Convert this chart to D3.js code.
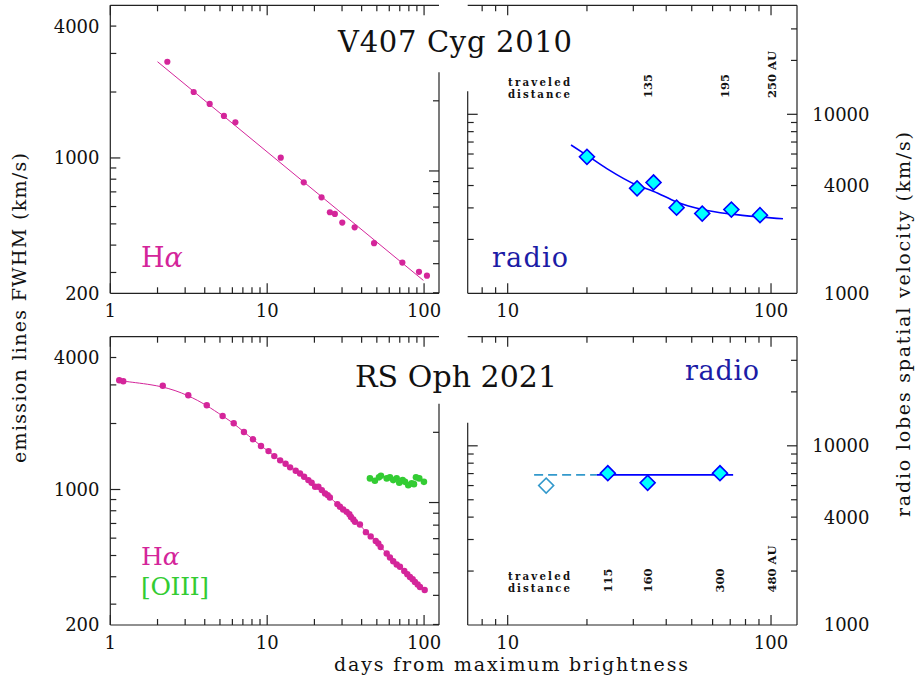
<!DOCTYPE html>
<html>
<head>
<meta charset="utf-8">
<script src="https://cdn.jsdelivr.net/npm/d3@7"></script>
<style>
  body { margin: 0; background: #fff; }
  svg { display: block; font-family: "DejaVu Serif", serif; }
</style>
</head>
<body>
<svg id="chart" width="920" height="680"></svg>
<script>
// V407 Cyg 2010 - H-alpha FWHM
const cygHaDays = [2.31, 3.40, 4.30, 5.30, 6.27, 12.2, 17.1, 22.2, 25.1, 27.0, 30.1, 36.1, 48.0, 72.7, 92.8, 104.3];
const cygHaFwhm = [2750, 2000, 1765, 1555, 1455, 1003, 774, 661, 565, 555, 507, 482, 408, 333, 302, 290];
const cygHaFitDays = [2.0, 99];
const cygHaFitFwhm = [2750, 276];

// V407 Cyg 2010 - radio lobes
const cygRadioDays = [20.0, 31.0, 35.8, 43.8, 54.8, 70.7, 90.8];
const cygRadioVel = [5790, 3860, 4160, 3010, 2790, 2935, 2730];
const cygRadioFitDays = [17.4, 20, 23.8, 31, 35.7, 43.8, 54.8, 70.7, 90.8, 111];
const cygRadioFitVel = [6740, 5900, 4970, 4010, 3720, 3240, 2940, 2770, 2670, 2610];
const cygDistDays = [34, 67, 101];
const cygDistText = ["135", "195", "250 AU"];

// RS Oph 2021 - H-alpha and [OIII] FWHM
const ophHaDays = [1.14, 1.21, 2.16, 3.14, 4.12, 5.20, 6.12, 7.11, 8.12, 9.13,
  10.2, 11.1, 12.1, 13.1, 14.0, 15.2, 16.2, 17.2, 18.3, 19.2,
  20.2, 21.2, 22.3, 23.4, 24.3, 25.1, 28.0, 29.1, 30.5, 32.1,
  33.4, 34.2, 35.4, 36.3, 39.0, 42.6, 45.7, 49.2, 51.1, 52.9,
  57.8, 60.6, 63.6, 66.9, 70.2, 74.8, 78.2, 81.3, 84.6, 87.5,
  91.0, 94.2, 100.9];
const ophHaFwhm = [3150, 3115, 2975, 2690, 2421, 2163, 2004, 1828, 1694, 1578,
  1497, 1420, 1358, 1310, 1262, 1217, 1184, 1143, 1104, 1073,
  1029, 1029, 994, 960, 943, 920, 858, 834, 811, 791,
  772, 750, 730, 712, 693, 639, 611, 583, 567, 547,
  511, 490, 471, 455, 444, 425, 411, 399, 390, 379,
  369, 359, 348];
const ophO3Days = [45.2, 48.6, 51.6, 53.1, 57.8, 60.6, 63.6, 66.9, 69.5, 73.0, 75.6, 79.3, 83.4, 86.2, 88.8, 93.2, 99.8];
const ophO3Fwhm = [1124, 1096, 1136, 1155, 1124, 1136, 1104, 1124, 1073, 1104, 1084, 1047, 1066, 1058, 1136, 1124, 1084];

// RS Oph 2021 - radio lobes
const ophRadioDays = [24.0, 34.0, 64.0];
const ophRadioVel = [7030, 6215, 7030];
const ophRadioEarlyDays = [14.0];
const ophRadioEarlyVel = [6000];
const ophDashDays = [12.6, 21.8];
const ophSolidDays = [21.8, 71.8];
const ophFitVel = [6885, 6885];
const ophDistDays = [24, 34, 64, 101];
const ophDistText = ["115", "160", "300", "480 AU"];

// tick labels
const dayLabelsLeft = [1, 10, 100];
const dayLabelsRight = [10, 100];
const fwhmLabels = [4000, 1000, 200];
const velLabels = [10000, 4000, 1000];

// colours
const cHa = "#d4259a", cO3 = "#33cc33", cRadio = "#1c1ca6";

const svg = d3.select("#chart");

// layout
const rows = [
  { top: 5.3, bottom: 293.3 },
  { top: 336.7, bottom: 625 }
];
const xL = d3.scaleLog().domain([1, 124.5]).range([110.3, 439]);
const xR = d3.scaleLog().domain([7.05, 125.5]).range([467.7, 797]);

const isMajor = (t) => Math.abs(Math.log10(t) - Math.round(Math.log10(t))) < 1e-6;

function yScales(r) {
  return {
    fwhm: d3.scaleLog().domain([241, 4977]).range([r.bottom, r.top]).clamp(true),
    fwhm2: d3.scaleLog().domain([298.5, 5140]).range([r.bottom, r.top]),
    vel: d3.scaleLog().domain([1000, 40640]).range([r.bottom, r.top])
  };
}

const frame = svg.append("g")
  .attr("stroke", "#222")
  .attr("stroke-width", 1.2)
  .attr("fill", "none");

function edge(x1, y1, x2, y2) {
  frame.append("line").attr("x1", x1).attr("y1", y1).attr("x2", x2).attr("y2", y2);
}

function xTicks(x, yEdge, dir) {
  x.ticks().forEach((t) => {
    const len = isMajor(t) ? 10 : 6;
    edge(x(t), yEdge, x(t), yEdge + dir * len);
  });
}

function yTicks(y, xEdge, dir, yMin) {
  y.ticks().forEach((t) => {
    const p = y(t);
    if (p < yMin || p > y.range()[0] - 0.5) return;
    const len = isMajor(t) ? 10 : 6;
    edge(xEdge, p, xEdge + dir * len, p);
  });
}

rows.forEach((r, i) => {
  const s = yScales(r);
  const [l0, l1] = xL.range();
  const [r0, r1] = xR.range();

  // left panel frame (right edge is cut by the title)
  edge(l0, r.top, l1, r.top);
  edge(l0, r.bottom, l1, r.bottom);
  edge(l0, r.top, l0, r.bottom);
  edge(l1, r.top + 67, l1, r.bottom);
  xTicks(xL, r.top, 1);
  xTicks(xL, r.bottom, -1);
  yTicks(s.fwhm, l0, 1, r.top + 1);
  yTicks(s.fwhm2, l1, -1, r.top + 72);

  // right panel frame
  const leftStart = r.top + 86;
  edge(r0, r.top, r1, r.top);
  edge(r0, r.bottom, r1, r.bottom);
  edge(r1, r.top, r1, r.bottom);
  edge(r0, leftStart, r0, r.bottom);
  xTicks(xR, r.top, 1);
  xTicks(xR, r.bottom, -1);
  yTicks(s.vel, r0, 1, leftStart + 6);
  yTicks(s.vel, r1, -1, r.top + 4);

  // tick labels
  const lab = svg.append("g")
    .attr("font-size", 18)
    .attr("fill", "#111");
  lab.selectAll(".xl").data(dayLabelsLeft).join("text")
    .attr("x", (d) => xL(d)).attr("y", r.bottom + 23.5)
    .attr("text-anchor", "middle").text((d) => d);
  lab.selectAll(".xr").data(dayLabelsRight).join("text")
    .attr("x", (d) => xR(d)).attr("y", r.bottom + 23.5)
    .attr("text-anchor", "middle").text((d) => d);
  lab.selectAll(".yl").data(fwhmLabels).join("text")
    .attr("x", 99.5).attr("y", (d) => s.fwhm(d)).attr("dy", "0.36em")
    .attr("text-anchor", "end").text((d) => d);
  lab.selectAll(".yr").data(velLabels).join("text")
    .attr("x", 869.5).attr("y", (d) => s.vel(d)).attr("dy", "0.36em")
    .attr("text-anchor", "end").text((d) => d);
});

const diamond = d3.symbol(d3.symbolSquare, 112);

function distLabel(x, y) {
  const g = svg.append("g")
    .attr("font-size", 10.2).attr("font-weight", "bold").attr("fill", "#111");
  g.append("text").attr("x", x).attr("y", y - 0.7)
    .attr("textLength", 62).attr("lengthAdjust", "spacing").text("traveled");
  g.append("text").attr("x", x).attr("y", y + 11.2)
    .attr("textLength", 62).attr("lengthAdjust", "spacing").text("distance");
}

// ---------- row 1: V407 Cyg ----------
{
  const s = yScales(rows[0]);
  const fit = d3.zip(cygHaFitDays, cygHaFitFwhm);
  svg.append("path")
    .attr("d", d3.line().x((d) => xL(d[0])).y((d) => s.fwhm(d[1]))(fit))
    .attr("fill", "none").attr("stroke", cHa).attr("stroke-width", 1);
  svg.append("g").selectAll("circle")
    .data(d3.zip(cygHaDays, cygHaFwhm)).join("circle")
    .attr("cx", (d) => xL(d[0])).attr("cy", (d) => s.fwhm(d[1]))
    .attr("r", 3.1).attr("fill", cHa);

  const curve = d3.zip(cygRadioFitDays, cygRadioFitVel);
  svg.append("path")
    .attr("d", d3.line().curve(d3.curveMonotoneX).x((d) => xR(d[0])).y((d) => s.vel(d[1]))(curve))
    .attr("fill", "none").attr("stroke", "#0000ff").attr("stroke-width", 1.6);
  svg.append("g").selectAll("path")
    .data(d3.zip(cygRadioDays, cygRadioVel)).join("path")
    .attr("d", diamond)
    .attr("transform", (d) => `translate(${xR(d[0])},${s.vel(d[1])}) rotate(45)`)
    .attr("fill", "#00ffff").attr("stroke", "#0000ff").attr("stroke-width", 1.6);

  // traveled distance
  distLabel(508, 86.7);
  svg.append("g").attr("font-size", 11.5).attr("font-weight", "bold").attr("fill", "#111")
    .selectAll("text").data(d3.zip(cygDistDays, cygDistText)).join("text")
    .attr("transform", (d) => `translate(${xR(d[0]) + 4},98) rotate(-90)`)
    .text((d) => d[1]);

  svg.append("text").attr("x", 338).attr("y", 52)
    .attr("font-size", 29).attr("textLength", 234).attr("lengthAdjust", "spacing")
    .attr("fill", "#111").text("V407 Cyg 2010");
  svg.append("text").attr("x", 141).attr("y", 267).attr("font-size", 27).attr("fill", cHa)
    .html('H<tspan font-style="italic">α</tspan>');
  svg.append("text").attr("x", 492).attr("y", 267).attr("font-size", 27)
    .attr("textLength", 76).attr("fill", cRadio).text("radio");
}

// ---------- row 2: RS Oph ----------
{
  const s = yScales(rows[1]);
  const ha = d3.zip(ophHaDays, ophHaFwhm);
  svg.append("path")
    .attr("d", d3.line().curve(d3.curveBasis).x((d) => xL(d[0])).y((d) => s.fwhm(d[1]))(ha))
    .attr("fill", "none").attr("stroke", cHa).attr("stroke-width", 1);
  svg.append("g").selectAll("circle")
    .data(ha).join("circle")
    .attr("cx", (d) => xL(d[0])).attr("cy", (d) => s.fwhm(d[1]))
    .attr("r", 3.2).attr("fill", cHa);
  svg.append("g").selectAll("circle")
    .data(d3.zip(ophO3Days, ophO3Fwhm)).join("circle")
    .attr("cx", (d) => xL(d[0])).attr("cy", (d) => s.fwhm(d[1]))
    .attr("r", 3.3).attr("fill", cO3);

  const line = d3.line().x((d) => xR(d[0])).y((d) => s.vel(d[1]));
  svg.append("path")
    .attr("d", line(d3.zip(ophDashDays, ophFitVel)))
    .attr("fill", "none").attr("stroke", "#3399cc").attr("stroke-width", 1.6)
    .attr("stroke-dasharray", "9,5");
  svg.append("path")
    .attr("d", line(d3.zip(ophSolidDays, ophFitVel)))
    .attr("fill", "none").attr("stroke", "#0000ff").attr("stroke-width", 1.6);
  svg.append("g").selectAll("path")
    .data(d3.zip(ophRadioEarlyDays, ophRadioEarlyVel)).join("path")
    .attr("d", diamond)
    .attr("transform", (d) => `translate(${xR(d[0])},${s.vel(d[1])}) rotate(45)`)
    .attr("fill", "#fff").attr("stroke", "#3399cc").attr("stroke-width", 1.6);
  svg.append("g").selectAll("path")
    .data(d3.zip(ophRadioDays, ophRadioVel)).join("path")
    .attr("d", diamond)
    .attr("transform", (d) => `translate(${xR(d[0])},${s.vel(d[1])}) rotate(45)`)
    .attr("fill", "#00ffff").attr("stroke", "#0000ff").attr("stroke-width", 1.6);

  distLabel(508, 581);
  svg.append("g").attr("font-size", 11.5).attr("font-weight", "bold").attr("fill", "#111")
    .selectAll("text").data(d3.zip(ophDistDays, ophDistText)).join("text")
    .attr("transform", (d) => `translate(${xR(d[0]) + 4},592.5) rotate(-90)`)
    .text((d) => d[1]);

  svg.append("text").attr("x", 355).attr("y", 387)
    .attr("font-size", 30).attr("textLength", 202).attr("lengthAdjust", "spacing")
    .attr("fill", "#111").text("RS Oph 2021");
  // legend: H-alpha above [OIII]
  svg.append("text").attr("x", 141).attr("y", 565).attr("font-size", 25).attr("fill", cHa)
    .html('H<tspan font-style="italic">α</tspan>');
  svg.append("text").attr("x", 141).attr("y", 594.5).attr("font-size", 25)
    .attr("textLength", 68).attr("fill", cO3).text("[OIII]");
  svg.append("text").attr("x", 685).attr("y", 380).attr("font-size", 27)
    .attr("textLength", 74).attr("fill", cRadio).text("radio");
}

// axis titles
svg.append("text")
  .attr("transform", "translate(26,308) rotate(-90)")
  .attr("text-anchor", "middle").attr("font-size", 19)
  .attr("textLength", 310).attr("lengthAdjust", "spacing").attr("fill", "#111")
  .text("emission lines FWHM (km/s)");
svg.append("text")
  .attr("transform", "translate(910,324.5) rotate(-90)")
  .attr("text-anchor", "middle").attr("font-size", 19)
  .attr("textLength", 385).attr("lengthAdjust", "spacing").attr("fill", "#111")
  .text("radio lobes spatial velocity (km/s)");
svg.append("text")
  .attr("x", 511).attr("y", 671)
  .attr("text-anchor", "middle").attr("font-size", 19)
  .attr("textLength", 354).attr("lengthAdjust", "spacing").attr("fill", "#111")
  .text("days from maximum brightness");
</script>
</body>
</html>
